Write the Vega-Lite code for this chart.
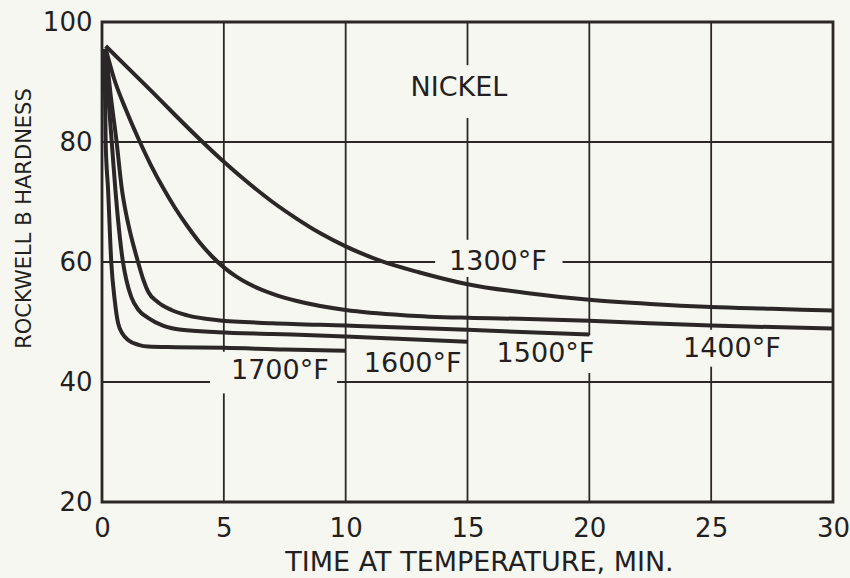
{
  "$schema": "https://vega.github.io/schema/vega-lite/v6.json",
  "width": 731,
  "height": 480,
  "autosize": {"type": "none"},
  "padding": {"left": 102, "top": 22, "right": 17, "bottom": 76},
  "background": "#f7f7f2",
  "config": {
    "view": {"stroke": "#2b2727", "strokeWidth": 2.8},
    "font": "DejaVu Sans"
  },
  "datasets": {
    "curves": [
      {"temp": "1300", "x": 0.15, "y": 96.0},
      {"temp": "1300", "x": 1, "y": 92.6},
      {"temp": "1300", "x": 2, "y": 88.6},
      {"temp": "1300", "x": 3, "y": 84.5},
      {"temp": "1300", "x": 4, "y": 80.5},
      {"temp": "1300", "x": 5, "y": 76.7},
      {"temp": "1300", "x": 6, "y": 73.2},
      {"temp": "1300", "x": 7, "y": 70.0},
      {"temp": "1300", "x": 8, "y": 67.2},
      {"temp": "1300", "x": 9, "y": 64.7},
      {"temp": "1300", "x": 10, "y": 62.6},
      {"temp": "1300", "x": 11.5, "y": 60.1},
      {"temp": "1300", "x": 13, "y": 58.3},
      {"temp": "1300", "x": 15, "y": 56.3},
      {"temp": "1300", "x": 17.5, "y": 54.8},
      {"temp": "1300", "x": 20, "y": 53.7},
      {"temp": "1300", "x": 22.5, "y": 53.0},
      {"temp": "1300", "x": 25, "y": 52.5},
      {"temp": "1300", "x": 27.5, "y": 52.2},
      {"temp": "1300", "x": 30, "y": 51.9},

      {"temp": "1400", "x": 0.15, "y": 95.6},
      {"temp": "1400", "x": 0.5, "y": 90.5},
      {"temp": "1400", "x": 1, "y": 85.2},
      {"temp": "1400", "x": 1.5, "y": 80.5},
      {"temp": "1400", "x": 2, "y": 76.2},
      {"temp": "1400", "x": 2.5, "y": 72.4},
      {"temp": "1400", "x": 3, "y": 69.0},
      {"temp": "1400", "x": 3.5, "y": 66.0},
      {"temp": "1400", "x": 4, "y": 63.3},
      {"temp": "1400", "x": 4.5, "y": 61.0},
      {"temp": "1400", "x": 5, "y": 59.1},
      {"temp": "1400", "x": 5.5, "y": 57.6},
      {"temp": "1400", "x": 6, "y": 56.4},
      {"temp": "1400", "x": 7, "y": 54.7},
      {"temp": "1400", "x": 8, "y": 53.5},
      {"temp": "1400", "x": 10, "y": 52.0},
      {"temp": "1400", "x": 12.5, "y": 51.1},
      {"temp": "1400", "x": 15, "y": 50.7},
      {"temp": "1400", "x": 17.5, "y": 50.5},
      {"temp": "1400", "x": 20, "y": 50.2},
      {"temp": "1400", "x": 25, "y": 49.4},
      {"temp": "1400", "x": 30, "y": 48.9},

      {"temp": "1500", "x": 0.15, "y": 95.5},
      {"temp": "1500", "x": 0.35, "y": 88.0},
      {"temp": "1500", "x": 0.6, "y": 80.0},
      {"temp": "1500", "x": 0.82, "y": 72.0},
      {"temp": "1500", "x": 1.0, "y": 67.8},
      {"temp": "1500", "x": 1.2, "y": 64.2},
      {"temp": "1500", "x": 1.48, "y": 60.0},
      {"temp": "1500", "x": 1.7, "y": 57.0},
      {"temp": "1500", "x": 1.9, "y": 55.0},
      {"temp": "1500", "x": 2.3, "y": 53.3},
      {"temp": "1500", "x": 2.85, "y": 52.0},
      {"temp": "1500", "x": 3.5, "y": 51.1},
      {"temp": "1500", "x": 4.76, "y": 50.3},
      {"temp": "1500", "x": 7, "y": 49.8},
      {"temp": "1500", "x": 10, "y": 49.4},
      {"temp": "1500", "x": 15, "y": 48.7},
      {"temp": "1500", "x": 20, "y": 47.9},

      {"temp": "1600", "x": 0.12, "y": 95.5},
      {"temp": "1600", "x": 0.25, "y": 88.0},
      {"temp": "1600", "x": 0.4, "y": 80.0},
      {"temp": "1600", "x": 0.55, "y": 72.0},
      {"temp": "1600", "x": 0.86, "y": 60.0},
      {"temp": "1600", "x": 1.0, "y": 57.0},
      {"temp": "1600", "x": 1.2, "y": 54.2},
      {"temp": "1600", "x": 1.5, "y": 52.0},
      {"temp": "1600", "x": 1.89, "y": 50.7},
      {"temp": "1600", "x": 2.5, "y": 49.4},
      {"temp": "1600", "x": 3.26, "y": 48.7},
      {"temp": "1600", "x": 4.76, "y": 48.3},
      {"temp": "1600", "x": 7, "y": 48.0},
      {"temp": "1600", "x": 10, "y": 47.6},
      {"temp": "1600", "x": 15, "y": 46.7},

      {"temp": "1700", "x": 0.1, "y": 95.5},
      {"temp": "1700", "x": 0.15, "y": 80.0},
      {"temp": "1700", "x": 0.25, "y": 72.0},
      {"temp": "1700", "x": 0.38, "y": 60.0},
      {"temp": "1700", "x": 0.52, "y": 53.7},
      {"temp": "1700", "x": 0.66, "y": 49.8},
      {"temp": "1700", "x": 0.85, "y": 48.0},
      {"temp": "1700", "x": 1.07, "y": 47.0},
      {"temp": "1700", "x": 1.5, "y": 46.2},
      {"temp": "1700", "x": 1.89, "y": 45.9},
      {"temp": "1700", "x": 3, "y": 45.8},
      {"temp": "1700", "x": 5, "y": 45.7},
      {"temp": "1700", "x": 7.5, "y": 45.4},
      {"temp": "1700", "x": 10, "y": 45.2}
    ],
    "hgrid": [
      {"y": 80, "x": 0, "x2": 30},
      {"y": 60, "x": 0, "x2": 13.67},
      {"y": 60, "x": 18.9, "x2": 30},
      {"y": 40, "x": 0, "x2": 4.43},
      {"y": 40, "x": 9.65, "x2": 30}
    ],
    "vgrid": [
      {"x": 5, "y": 100, "y2": 45.05},
      {"x": 5, "y": 38.1, "y2": 20},
      {"x": 10, "y": 100, "y2": 20},
      {"x": 15, "y": 100, "y2": 92.8},
      {"x": 15, "y": 84, "y2": 63.7},
      {"x": 15, "y": 57.5, "y2": 20},
      {"x": 20, "y": 100, "y2": 47.8},
      {"x": 20, "y": 41.5, "y2": 20},
      {"x": 25, "y": 100, "y2": 48.7},
      {"x": 25, "y": 42.55, "y2": 20}
    ],
    "labels": [
      {"text": "NICKEL", "x": 14.65, "y": 89.0},
      {"text": "1300°F", "x": 16.25, "y": 60.0},
      {"text": "1400°F", "x": 25.85, "y": 45.5},
      {"text": "1500°F", "x": 18.2, "y": 44.7},
      {"text": "1600°F", "x": 12.75, "y": 43.0},
      {"text": "1700°F", "x": 7.3, "y": 41.8}
    ]
  },
  "encoding": {
    "y": {
      "field": "y", "type": "quantitative",
      "scale": {"domain": [20, 100], "nice": false, "zero": false},
      "axis": {
        "title": "ROCKWELL B HARDNESS",
        "values": [20, 40, 60, 80, 100],
        "grid": false, "ticks": false, "domain": false,
        "labelFont": "DejaVu Sans", "labelFontSize": 26, "labelColor": "#231f20",
        "labelPadding": 10, "labelFlush": false, "labelOverlap": false,
        "titleFont": "DejaVu Sans", "titleFontSize": 21, "titleFontWeight": "normal",
        "titleColor": "#231f20", "titleAngle": -90, "titleX": -78, "titleY": 196,
        "titleAlign": "center", "titleBaseline": "middle"
      }
    },
    "x": {
      "field": "x", "type": "quantitative",
      "scale": {"domain": [0, 30], "nice": false, "zero": false},
      "axis": {
        "title": "TIME AT TEMPERATURE, MIN.",
        "values": [0, 5, 10, 15, 20, 25, 30],
        "grid": false, "ticks": false, "domain": false,
        "labelFont": "DejaVu Sans", "labelFontSize": 26, "labelColor": "#231f20",
        "labelPadding": 34, "labelBaseline": "alphabetic",
        "labelFlush": false, "labelOverlap": false,
        "titleFont": "DejaVu Sans", "titleFontSize": 27, "titleFontWeight": "normal",
        "titleColor": "#231f20", "titleX": 377, "titleY": 68,
        "titleAlign": "center", "titleBaseline": "alphabetic"
      }
    }
  },
  "layer": [
    {
      "data": {"name": "hgrid"},
      "mark": {"type": "rule", "color": "#2b2727", "strokeWidth": 1.8},
      "encoding": {"x2": {"field": "x2"}}
    },
    {
      "data": {"name": "vgrid"},
      "mark": {"type": "rule", "color": "#2b2727", "strokeWidth": 1.8},
      "encoding": {"y2": {"field": "y2"}}
    },
    {
      "data": {"name": "curves"},
      "mark": {"type": "line", "color": "#2b2727", "strokeWidth": 4, "interpolate": "monotone", "strokeCap": "butt", "strokeJoin": "round"},
      "encoding": {"detail": {"field": "temp", "type": "nominal"}}
    },
    {
      "data": {"name": "labels"},
      "mark": {"type": "text", "font": "DejaVu Sans", "fontSize": 27, "color": "#231f20", "align": "center", "baseline": "middle"},
      "encoding": {"text": {"field": "text", "type": "nominal"}}
    }
  ]
}
